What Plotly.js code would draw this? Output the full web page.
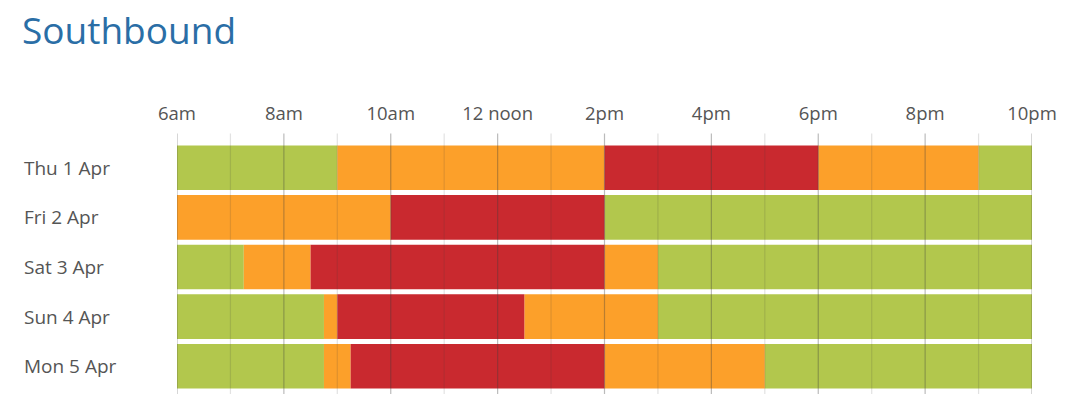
<!DOCTYPE html>
<html>
<head>
<meta charset="utf-8">
<script src="https://cdn.plot.ly/plotly-3.0.1.min.js"></script>
<style>html,body{margin:0;padding:0;background:#fff;}#chart{width:1080px;height:415px;}</style>
</head>
<body>
<div id="chart"></div>
<script>
// Days (rows, top to bottom)
const days = ["Thu 1 Apr", "Fri 2 Apr", "Sat 3 Apr", "Sun 4 Apr", "Mon 5 Apr"];

// Segment boundaries (hour of day) and congestion level for each day
const thuBreaks = [6, 9, 14, 18, 21, 22];
const thuLevels = ["low", "medium", "high", "medium", "low"];
const friBreaks = [6, 10, 14, 22];
const friLevels = ["medium", "high", "low"];
const satBreaks = [6, 7.25, 8.5, 14, 15, 22];
const satLevels = ["low", "medium", "high", "medium", "low"];
const sunBreaks = [6, 8.75, 9, 12.5, 15, 22];
const sunLevels = ["low", "medium", "high", "medium", "low"];
const monBreaks = [6, 8.75, 9.25, 14, 17, 22];
const monLevels = ["low", "medium", "high", "medium", "low"];

// Axis ticks
const tickHours = [6, 8, 10, 12, 14, 16, 18, 20, 22];
const tickLabels = ["6am", "8am", "10am", "12 noon", "2pm", "4pm", "6pm", "8pm", "10pm"];
const gridHours = [6, 7, 8, 9, 10, 11, 12, 13, 14, 15, 16, 17, 18, 19, 20, 21, 22];

const levelNames = ["low", "medium", "high"];
const levelColors = {low: "#b2c74d", medium: "#fca02a", high: "#c9292f"};

const allBreaks = [thuBreaks, friBreaks, satBreaks, sunBreaks, monBreaks];
const allLevels = [thuLevels, friLevels, satLevels, sunLevels, monLevels];

const traces = levelNames.map(function (lvl) {
  const y = [], x = [], base = [];
  allBreaks.forEach(function (br, d) {
    allLevels[d].forEach(function (l, i) {
      if (l === lvl) {
        y.push(days[d]);
        base.push(br[i]);
        x.push(br[i + 1] - br[i]);
      }
    });
  });
  return {
    type: "bar", orientation: "h", name: lvl,
    y: y, x: x, base: base,
    marker: {color: levelColors[lvl], line: {width: 0}},
    hoverinfo: "skip", showlegend: false
  };
});

const shapes = gridHours.map(function (h) {
  const major = (h % 2 === 0);
  return {
    type: "line", layer: "above", xref: "x", yref: "paper",
    x0: h, x1: h, y0: -0.012, y1: 1.038,
    line: {color: major ? "rgba(60,60,60,0.35)" : "rgba(60,60,60,0.15)", width: 1.2}
  };
});

const annotations = days.map(function (d) {
  return {
    xref: "paper", yref: "y", x: -155 / 855, y: d, xanchor: "left", yanchor: "middle",
    text: d, showarrow: false,
    font: {family: "Open Sans, sans-serif", size: 19, color: "#555555"}
  };
});

const layout = {
  width: 1080, height: 415,
  margin: {l: 177, r: 48, t: 143, b: 23.5, pad: 0},
  paper_bgcolor: "#fff", plot_bgcolor: "#fff",
  barmode: "overlay", bargap: 0.1,
  title: {
    text: "Southbound", xref: "container", yref: "container",
    x: 22 / 1080, xanchor: "left", y: 1 - 31 / 415, yanchor: "middle",
    font: {family: "Open Sans, sans-serif", size: 37, color: "#2a6ea6"}
  },
  xaxis: {
    range: [6, 22], side: "top", tickvals: tickHours, ticktext: tickLabels,
    showgrid: false, zeroline: false, showline: false, ticks: "",
    ticklabelstandoff: 18,
    tickfont: {family: "Open Sans, sans-serif", size: 18.5, color: "#555555"},
    fixedrange: true
  },
  yaxis: {
    type: "category", categoryorder: "array", categoryarray: days,
    autorange: false, range: [4.5, -0.5],
    showticklabels: false, showgrid: false, zeroline: false, showline: false, ticks: "",
    fixedrange: true
  },
  shapes: shapes,
  annotations: annotations
};

Plotly.newPlot("chart", traces, layout, {displayModeBar: false, staticPlot: true});
</script>
</body>
</html>
